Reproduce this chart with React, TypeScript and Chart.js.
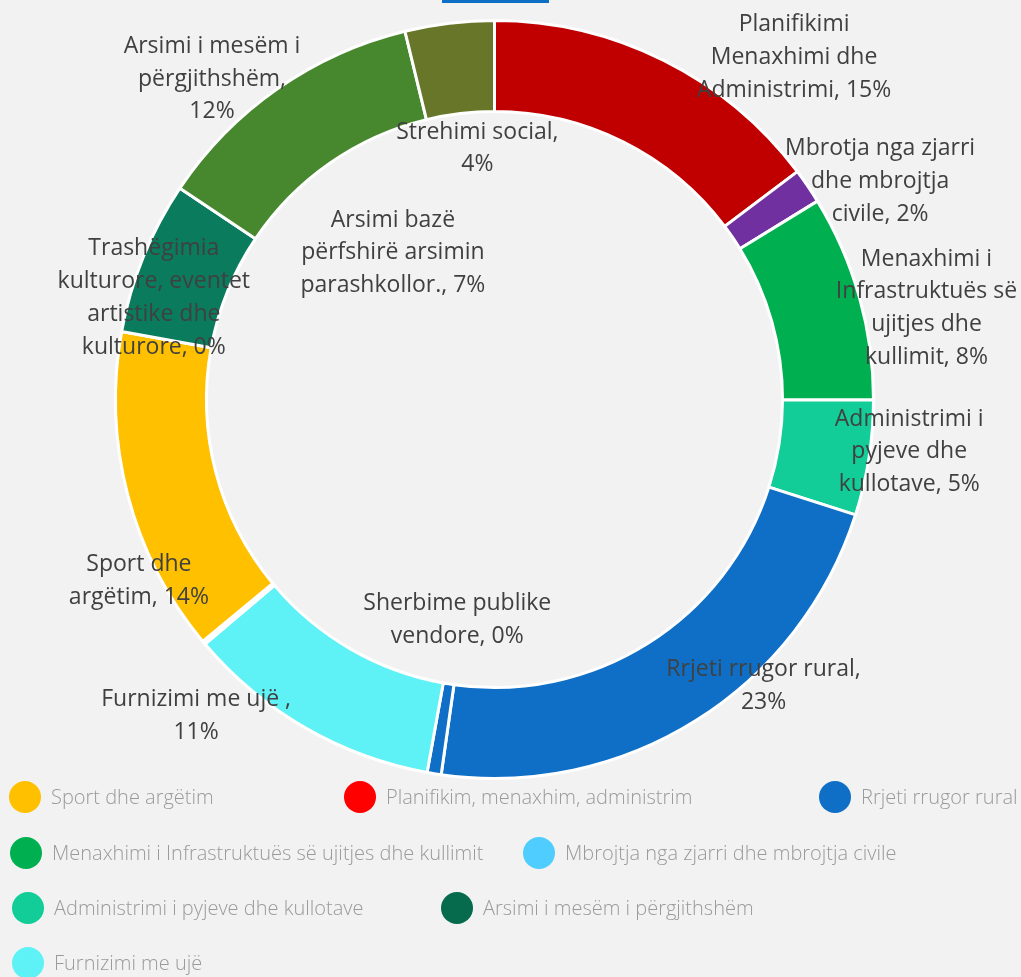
import React, { useEffect, useRef } from "react";
import { Chart, registerables } from "chart.js";

Chart.register(...registerables);

// ---- data ----
const categories = [
  "Planifikimi Menaxhimi dhe Administrimi",
  "Mbrotja nga zjarri dhe mbrojtja civile",
  "Menaxhimi i Infrastruktuës së ujitjes dhe kullimit",
  "Administrimi i pyjeve dhe kullotave",
  "Rrjeti rrugor rural",
  "Sherbime publike vendore",
  "Furnizimi me ujë",
  "Trashëgimia kulturore, eventet artistike dhe kulturore",
  "Sport dhe argëtim",
  "Arsimi bazë përfshirë arsimin parashkollor.",
  "Arsimi i mesëm i përgjithshëm",
  "Strehimi social",
];

const values = [14.75, 1.5, 8.8, 4.9, 22.35, 0.6, 11.0, 0.15, 13.9, 6.55, 11.8, 3.8];

const sliceColors = [
  "#c00000",
  "#7030a0",
  "#00b050",
  "#12cd97",
  "#0f6fc6",
  "#0f6fc6",
  "#5ef1f6",
  "#f4f4f4",
  "#ffc000",
  "#0a7b5d",
  "#47882f",
  "#677629",
];

const labelLines = [
  ["Planifikimi", "Menaxhimi dhe", "Administrimi, 15%"],
  ["Mbrotja nga zjarri", "dhe mbrojtja", "civile, 2%"],
  ["Menaxhimi i", "Infrastruktuës së", "ujitjes dhe", "kullimit, 8%"],
  ["Administrimi i", "pyjeve dhe", "kullotave, 5%"],
  ["Rrjeti rrugor rural,", "23%"],
  ["Sherbime publike", "vendore, 0%"],
  ["Furnizimi me ujë ,", "11%"],
  ["Trashëgimia", "kulturore, eventet", "artistike dhe", "kulturore, 0%"],
  ["Sport dhe", "argëtim, 14%"],
  ["Arsimi bazë", "përfshirë arsimin", "parashkollor., 7%"],
  ["Arsimi i mesëm i", "përgjithshëm,", "12%"],
  ["Strehimi social,", "4%"],
];

const legendNames = [
  "Sport dhe argëtim",
  "Planifikim, menaxhim, administrim",
  "Rrjeti rrugor rural",
  "Menaxhimi i Infrastruktuës së ujitjes dhe kullimit",
  "Mbrojtja nga zjarri dhe mbrojtja civile",
  "Administrimi i pyjeve dhe kullotave",
  "Arsimi i mesëm i përgjithshëm",
  "Furnizimi me ujë",
];

const legendColors = [
  "#ffc000",
  "#ff0000",
  "#0f6fc6",
  "#00b050",
  "#4fcdff",
  "#12cd97",
  "#066a4d",
  "#5ef1f6",
];

// ---- layout (not data) ----
// label placement: [angle in degrees clockwise from top, distance as a multiple of the outer radius]
const LABEL_PLACE: [number, number][] = [
  [41.2, 1.2],
  [60.5, 1.169],
  [78.05, 1.165],
  [97.2, 1.103],
  [136.8, 1.037],
  [189.6, 0.589],
  [223.3, 1.148],
  [286.6, 0.938],
  [243.0, 1.053],
  [325.3, 0.471],
  [318.6, 1.127],
  [356.1, 0.664],
];

const LEGEND_ROWS: { top: number; items: { idx: number; left: number }[] }[] = [
  { top: 797, items: [{ idx: 0, left: 9 }, { idx: 1, left: 344 }, { idx: 2, left: 819 }] },
  { top: 853, items: [{ idx: 3, left: 10 }, { idx: 4, left: 523 }] },
  { top: 908, items: [{ idx: 5, left: 12 }, { idx: 6, left: 441 }] },
  { top: 963, items: [{ idx: 7, left: 12 }] },
];

const W = 1021;
const H = 977;

const sliceLabelPlugin = {
  id: "sliceLabels",
  afterDatasetsDraw(chart: any) {
    const meta = chart.getDatasetMeta(0);
    const arc = meta.data[0];
    if (!arc) return;
    const { x: cx, y: cy, outerRadius } = arc.getProps(["x", "y", "outerRadius"], true);
    const ctx = chart.ctx as CanvasRenderingContext2D;
    ctx.save();
    ctx.font = "23px 'Open Sans'";
    ctx.fillStyle = "#404040";
    ctx.textAlign = "center";
    ctx.textBaseline = "middle";
    const lh = 32.7;
    labelLines.forEach((lines, i) => {
      const [deg, f] = LABEL_PLACE[i];
      const a = (deg * Math.PI) / 180;
      const x = cx + Math.sin(a) * f * outerRadius;
      const y = cy - Math.cos(a) * f * outerRadius;
      const y0 = y - ((lines.length - 1) * lh) / 2;
      lines.forEach((t, j) => ctx.fillText(t, x, y0 + j * lh));
    });
    ctx.restore();
  },
};

export default function App() {
  const canvasRef = useRef<HTMLCanvasElement | null>(null);

  useEffect(() => {
    document.body.style.margin = "0";
    const canvas = canvasRef.current;
    if (!canvas) return;
    const chart = new Chart(canvas, {
      type: "doughnut",
      data: {
        labels: categories,
        datasets: [
          {
            data: values,
            backgroundColor: sliceColors,
            borderColor: "#ffffff",
            borderWidth: 3,
          },
        ],
      },
      options: {
        responsive: false,
        animation: false,
        devicePixelRatio: 1,
        cutout: "76%",
        layout: { padding: { left: 114, top: 19, right: 146, bottom: 197 } },
        plugins: {
          legend: { display: false },
          tooltip: { enabled: false },
          title: { display: false },
        },
      },
      plugins: [sliceLabelPlugin],
    });
    return () => chart.destroy();
  }, []);

  return (
    <div
      style={{
        position: "relative",
        width: W,
        height: H,
        background: "#f2f2f2",
        overflow: "hidden",
        fontFamily: "'Open Sans', sans-serif",
      }}
    >
      <div
        style={{
          position: "absolute",
          left: 442,
          top: 0,
          width: 107,
          height: 3,
          background: "#0f6fc6",
        }}
      />
      <canvas
        ref={canvasRef}
        width={W}
        height={H}
        style={{ position: "absolute", left: 0, top: 0, width: W, height: H, display: "block" }}
      />
      {LEGEND_ROWS.map((row, r) =>
        row.items.map(({ idx, left }) => (
          <div
            key={`${r}-${idx}`}
            style={{
              position: "absolute",
              left,
              top: row.top - 16,
              height: 32,
              display: "flex",
              alignItems: "center",
              whiteSpace: "nowrap",
            }}
          >
            <span
              style={{
                display: "inline-block",
                width: 32,
                height: 32,
                borderRadius: "50%",
                background: legendColors[idx],
                marginRight: 10,
                flex: "none",
              }}
            />
            <span
              style={{
                fontSize: 20,
                fontWeight: 300,
                color: "#9a9a9a",
                lineHeight: "32px",
              }}
            >
              {legendNames[idx]}
            </span>
          </div>
        ))
      )}
    </div>
  );
}
